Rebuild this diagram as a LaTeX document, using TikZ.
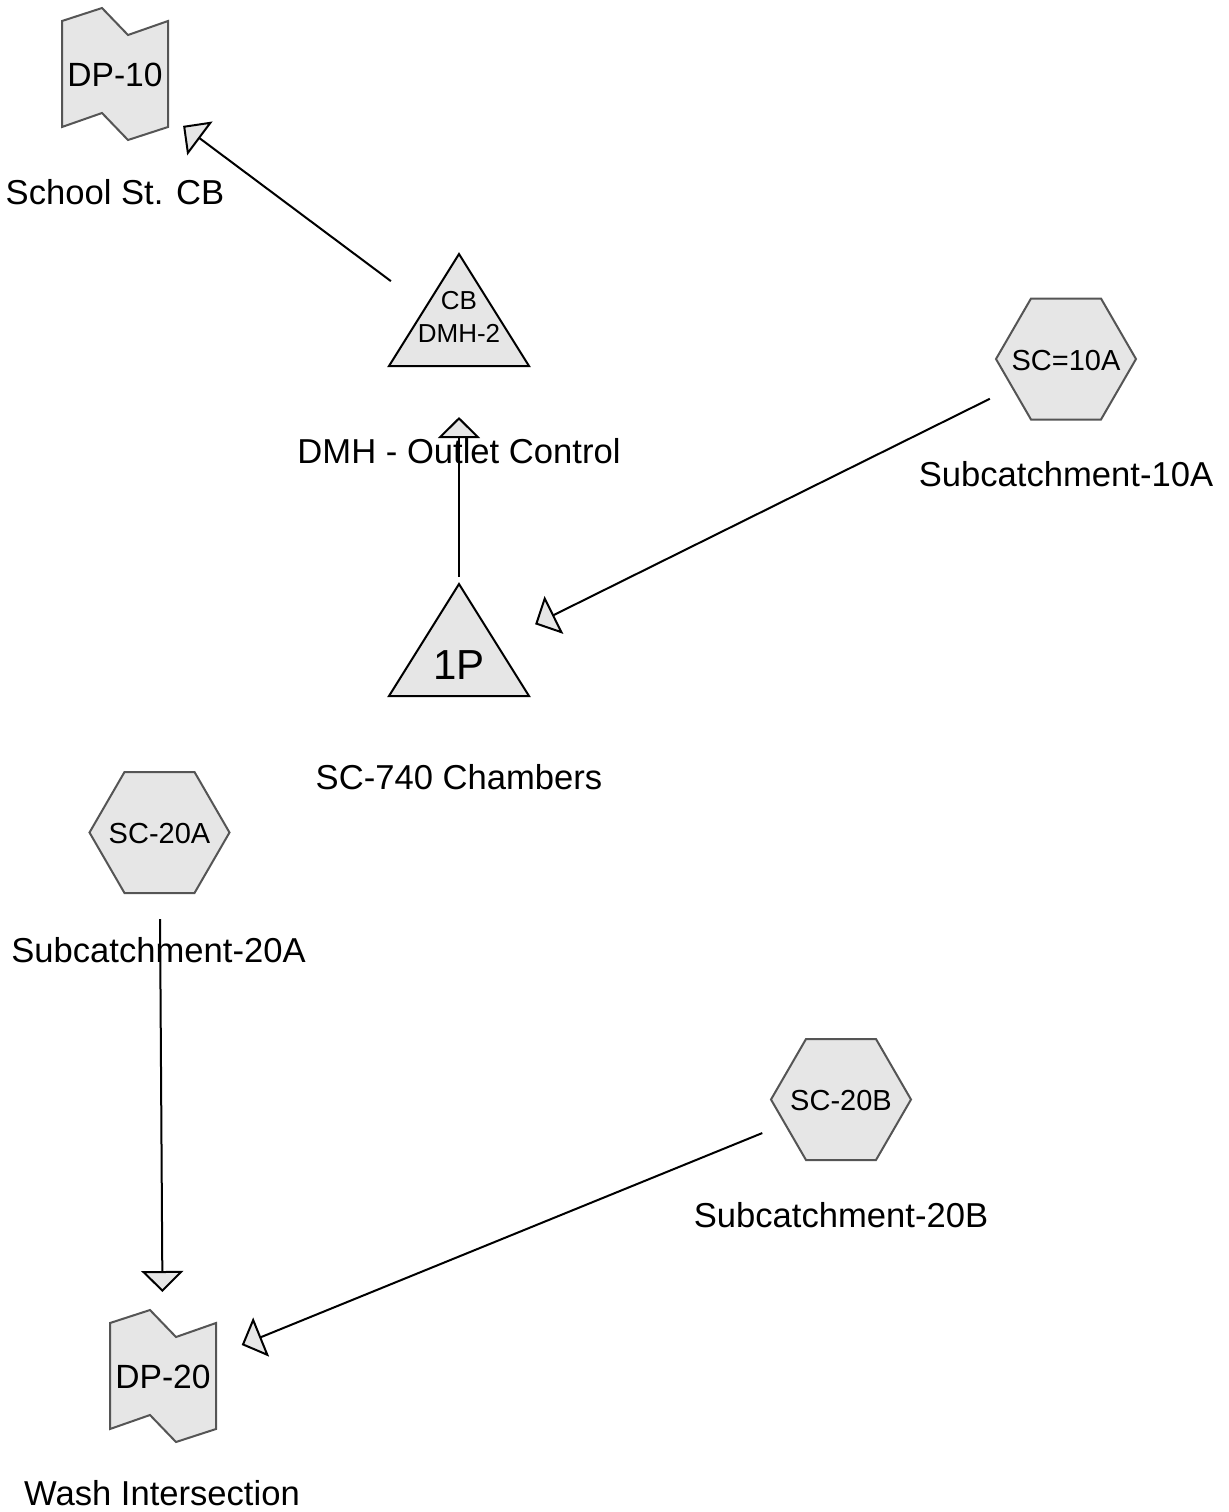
\documentclass[tikz,border=0pt]{standalone}
\usepackage{fontspec}
\setmainfont{Liberation Sans}
\usetikzlibrary{arrows.meta}
\definecolor{nodefill}{HTML}{E6E6E6}
\definecolor{rimgray}{HTML}{555555}
\tikzset{
  lbl/.style={font=\fontsize{17.3}{20}\selectfont, inner sep=0pt},
  dptext/.style={font=\fontsize{16.8}{20}\selectfont, inner sep=0pt},
  hextext/.style={font=\fontsize{14.5}{17}\selectfont, inner sep=0pt},
  sheetline/.style={draw=rimgray, fill=nodefill, line width=1pt},
  tribox/.style={draw=black, fill=nodefill, line width=1pt},
  flow/.style={line width=1pt, shorten <=42.5pt, shorten >=42.5pt,
    -{Triangle[width=21pt,length=10.5pt,fill=nodefill]}}
}
\newcommand{\sheetat}[1]{\draw[sheetline,shift={(#1)}] (-53,-53) -- (-13,-66) -- (13,-39) -- (53,-53)
  -- (53,53) -- (13,66) -- (-13,39) -- (-53,53) -- cycle;}
\newcommand{\hexat}[1]{\draw[sheetline,shift={(#1)}] (-70,0) -- (-35,-60.5) -- (35,-60.5) -- (70,0)
  -- (35,60.5) -- (-35,60.5) -- cycle;}
\newcommand{\tankat}[1]{\draw[tribox,shift={(#1)}] (0,-78) -- (70,34) -- (-70,34) -- cycle;}
\begin{document}
\begin{tikzpicture}[x=0.5pt,y=-0.5pt]
\useasboundingbox (0,0) rectangle (1229,1512);
\sheetat{115,74}
\node[dptext] (dp10) at (115,75) {DP-10};
\node[lbl] (dp10-lbl) at (115,192) {School St. CB};
\tankat{459,332}
\coordinate (dmh) at (459,332);
\node[align=center, inner sep=0pt, font=\fontsize{13}{16.8}\selectfont] (dmh-txt) at (459,317) {CB\\DMH-2};
\node[lbl] (dmh-lbl) at (459,451) {DMH - Outlet Control};
\hexat{1066,359}
\node[hextext] (sc10a) at (1066,361) {SC=10A};
\node[lbl] (sc10a-lbl) at (1066,474) {Subcatchment-10A};
\tankat{459,662}
\coordinate (p1) at (459,662);
\node[inner sep=0pt, font=\fontsize{21}{24}\selectfont] (p1-txt) at (459,665) {1P};
\node[lbl] (p1-lbl) at (459,777) {SC-740 Chambers};
\hexat{159.5,832.5}
\node[hextext] (sc20a) at (159.5,834) {SC-20A};
\node[lbl] (sc20a-lbl) at (158.5,950) {Subcatchment-20A};
\hexat{841,1099.5}
\node[hextext] (sc20b) at (841,1101) {SC-20B};
\node[lbl] (sc20b-lbl) at (841,1215) {Subcatchment-20B};
\sheetat{163,1376}
\node[dptext] (dp20) at (163,1377) {DP-20};
\node[lbl] (dp20-lbl) at (162,1493) {Wash Intersection};
\draw[flow] (dmh) -- (dp10.center);
\draw[flow] (p1) -- (dmh);
\draw[flow] (sc10a.center) -- (p1);
\draw[flow] (sc20a.center) -- (dp20.center);
\draw[flow] (sc20b.center) -- (dp20.center);
\end{tikzpicture}
\end{document}
